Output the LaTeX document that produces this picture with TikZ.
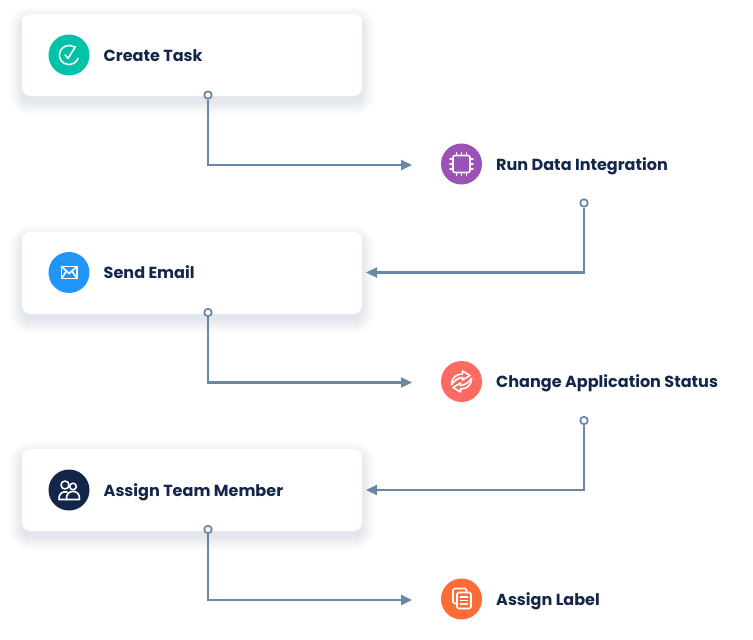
\documentclass[tikz,border=0pt]{standalone}
\usepackage{fontspec}
\setmainfont{Poppins}
\usetikzlibrary{positioning,arrows.meta}
\definecolor{inkblue}{HTML}{14274A}
\definecolor{linkblue}{HTML}{6A87A6}
\definecolor{shadowblue}{HTML}{54688A}
\definecolor{tealc}{HTML}{00C2A8}
\definecolor{purplec}{HTML}{9C51B6}
\definecolor{bluec}{HTML}{2196F8}
\definecolor{redc}{HTML}{FC6A62}
\definecolor{navyc}{HTML}{12264A}
\definecolor{orangec}{HTML}{FF6C37}
\tikzset{
  card/.style={fill=white,rounded corners=0.16cm,minimum width=6.8cm,minimum height=1.64cm,inner sep=0pt},
  badge/.style={circle,minimum size=0.82cm,inner sep=0pt},
  caption/.style={right=0.27cm of #1,yshift=-0.04cm,inner sep=0pt,text=inkblue,font=\fontsize{9.13}{10}\selectfont\bfseries,text height=7pt,text depth=2pt},
  port/.style={circle,draw=linkblue,fill=white,line width=0.035cm,minimum size=0.15cm,inner sep=0pt},
  flow/.style={draw=linkblue,line width=0.045cm,-{Triangle[length=0.22cm,width=0.2cm]}},
  glyph/.style={draw=white,line width=0.032cm,line cap=round,line join=round}
}
\begin{document}
\begin{tikzpicture}[x=0.02cm,y=-0.02cm]
  \useasboundingbox (0,0) rectangle (753,639);
  \foreach \y in {55,273,490}
    \foreach \k in {0,1,...,13}
      \fill[shadowblue,opacity=0.012,rounded corners=0.16cm+\k*0.02cm] (22-\k,\y-41-\k+6) rectangle (362+\k,\y+41+\k+6);

  \node[card] (createCard) at (192,55) {};
  \node[card] (emailCard) at (192,273) {};
  \node[card] (memberCard) at (192,490) {};

  \node[badge,fill=tealc] (taskIcon) at (69,55) {};
  \node[badge,fill=bluec] (emailIcon) at (69,272.5) {};
  \node[badge,fill=navyc] (memberIcon) at (69,490) {};
  \node[badge,fill=purplec] (dataIcon) at (461.5,164) {};
  \node[badge,fill=redc] (statusIcon) at (461.5,381.5) {};
  \node[badge,fill=orangec] (labelIcon) at (461.5,599) {};

  \node[caption=taskIcon] (taskText) {Create Task};
  \node[caption=emailIcon] (emailText) {Send Email};
  \node[caption=memberIcon] (memberText) {Assign Team Member};
  \node[caption=dataIcon] (dataText) {Run Data Integration};
  \node[caption=statusIcon] (statusText) {Change Application Status};
  \node[caption=labelIcon] (labelText) {Assign Label};

  \node[port] (taskPort) at (208,95) {};
  \node[port] (dataPort) at (584,203) {};
  \node[port] (emailPort) at (208,312.5) {};
  \node[port] (statusPort) at (584,420.5) {};
  \node[port] (memberPort) at (208,529.5) {};

  \coordinate (dataIn) at (412,165);
  \coordinate (emailIn) at (366,272.5);
  \coordinate (statusIn) at (412,382.5);
  \coordinate (memberIn) at (366,490);
  \coordinate (labelIn) at (412,600);

  \draw[flow] (taskPort) |- (dataIn);
  \draw[flow] (dataPort) |- (emailIn);
  \draw[flow] (emailPort) |- (statusIn);
  \draw[flow] (statusPort) |- (memberIn);
  \draw[flow] (memberPort) |- (labelIn);

  \begin{scope}[shift={(taskIcon.center)},glyph]
    \draw (4.8,-8.3) arc (-60:-340:9.6);
    \draw (-4,0) -- (-1,3.5) -- (6.5,-8.5);
  \end{scope}

  \begin{scope}[shift={(emailIcon.center)},glyph]
    \draw (-7.5,-6) rectangle (8,6);
    \draw (-7.5,-6) -- (0.2,1) -- (8,-6);
    \draw (-7.5,6) -- (-2.5,-1.5) (8,6) -- (3,-1.5);
  \end{scope}

  \begin{scope}[shift={(memberIcon.center)},glyph]
    \draw (-4,-5) circle (4);
    \draw (4,-3.5) circle (3.3);
    \draw (-2,2) .. controls (-7,1) and (-10.5,4) .. (-10,9.5) -- (-2,9.5);
    \draw (-2.5,9.5) .. controls (-3,3) and (1,1.5) .. (4,1.5) .. controls (7,1.5) and (11,3) .. (10.5,9.5) -- cycle;
  \end{scope}

  \begin{scope}[shift={(dataIcon.center)},glyph]
    \draw[rounded corners=0.04cm] (-8.5,-8.5) rectangle (8.5,8.5);
    \foreach \t in {-5,0,5} {
      \draw (\t,-8.5) -- (\t,-11.5);
      \draw (\t,8.5) -- (\t,11.5);
      \draw (-8.5,\t) -- (-11.5,\t);
      \draw (8.5,\t) -- (11.5,\t);
    }
  \end{scope}

  \begin{scope}[shift={(statusIcon.center)},glyph]
    \draw (-10,3) .. controls (-10,-4) and (-5,-7.5) .. (1,-7.5) -- (1,-10.5) -- (8.5,-6) -- (1,-1.5) -- (1,-4);
    \draw (1,-4) .. controls (-3,-4) and (-7,-1) .. (-10,3);
    \draw (10,-3) .. controls (10,4) and (5,7.5) .. (-1,7.5) -- (-1,10.5) -- (-8.5,6) -- (-1,1.5) -- (-1,4);
    \draw (-1,4) .. controls (3,4) and (7,1) .. (10,-3);
  \end{scope}

  \begin{scope}[shift={(labelIcon.center)},glyph]
    \draw[rounded corners=0.03cm] (-4,4.5) -- (-8.5,4.5) -- (-8.5,-10.5) -- (5,-10.5) -- (5,-6.5);
    \draw[fill=orangec,rounded corners=0.03cm] (-4.5,-6.5) rectangle (9.5,9.5);
    \draw (-1,-2) -- (6,-2) (-1,1.5) -- (6,1.5) (-1,5) -- (6,5);
  \end{scope}
\end{tikzpicture}
\end{document}
